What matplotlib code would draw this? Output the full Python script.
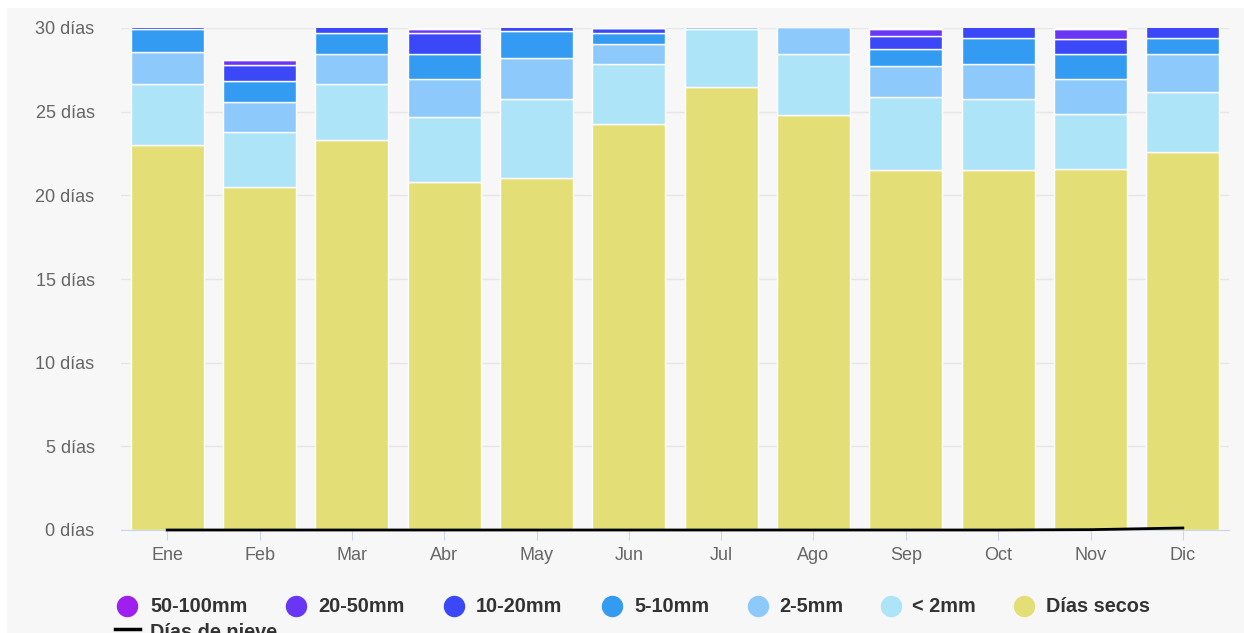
import matplotlib.pyplot as plt
from matplotlib.patches import Rectangle
from matplotlib.lines import Line2D
import numpy as np

plt.rcParams['font.family'] = ['Liberation Sans', 'DejaVu Sans']

months = ['Ene', 'Feb', 'Mar', 'Abr', 'May', 'Jun', 'Jul', 'Ago', 'Sep', 'Oct', 'Nov', 'Dic']

dry = [23.0, 20.52, 23.29, 20.82, 21.02, 24.29, 26.48, 24.79, 21.52, 21.5, 21.6, 22.59]
lt2 = [3.65, 3.25, 3.37, 3.85, 4.74, 3.55, 3.45, 3.64, 4.34, 4.26, 3.27, 3.57]
mm2_5 = [1.9, 1.79, 1.79, 2.29, 2.47, 1.19, 0.6, 1.6, 1.89, 2.08, 2.09, 2.27]
mm5_10 = [1.4, 1.3, 1.28, 1.47, 1.6, 0.7, 0.3, 0.6, 0.98, 1.59, 1.47, 1.0]
mm10_20 = [0.7, 0.9, 0.9, 1.3, 0.85, 0.25, 0.12, 0.27, 0.8, 1.1, 0.9, 1.1]
mm20_50 = [0.25, 0.3, 0.3, 0.22, 0.27, 0.02, 0.05, 0.1, 0.4, 0.4, 0.6, 0.4]
mm50_100 = [0.1, 0.05, 0.07, 0.05, 0.05, 0.0, 0.0, 0.0, 0.05, 0.07, 0.07, 0.07]
snow = [0, 0, 0, 0, 0, 0, 0, 0, 0, 0, 0.02, 0.12]

series = [
    ('Días secos', dry, '#e3df76'),
    ('< 2mm', lt2, '#ade4f8'),
    ('2-5mm', mm2_5, '#8dcafb'),
    ('5-10mm', mm5_10, '#339cf2'),
    ('10-20mm', mm10_20, '#3a48f8'),
    ('20-50mm', mm20_50, '#6a36f5'),
    ('50-100mm', mm50_100, '#9e1fee'),
]

W, H = 1244, 633
fig = plt.figure(figsize=(W / 100, H / 100), dpi=100, facecolor='white')
fig.add_artist(Rectangle((7 / W, 0), 1, 1 - 8 / H, transform=fig.transFigure,
                         facecolor='#f7f7f7', edgecolor='none', zorder=-10))

ax = fig.add_axes([121 / W, (H - 530) / H, (1229 - 121) / W, (530 - 28) / H])
ax.set_facecolor('#f7f7f7')

x = np.arange(len(months))
bottom = np.zeros(len(months))
for name, vals, col in series:
    ax.bar(x, vals, width=0.79, bottom=bottom, color=col, edgecolor='white',
           linewidth=1, zorder=2)
    bottom += np.array(vals)

ax.plot(x, snow, color='black', lw=2, zorder=3, clip_on=False)

ax.set_xlim(-0.5, 11.5)
ax.set_ylim(0, 30)
ax.set_yticks(range(0, 31, 5))
ax.set_yticklabels([f'{v} días' for v in range(0, 31, 5)])
ax.set_xticks(x)
ax.set_xticklabels(months)
ax.yaxis.grid(True, color='#e6e6e6', lw=1, zorder=0)
ax.set_axisbelow(True)
for s in ['top', 'right', 'left']:
    ax.spines[s].set_visible(False)
ax.spines['bottom'].set_color('#ccd6eb')
ax.tick_params(axis='y', length=0, pad=19, labelsize=13, labelcolor='#666666')
ax.tick_params(axis='x', length=7.2, color='#ccd6eb', pad=5, labelsize=13,
               labelcolor='#666666')

# legend drawn by hand to match the layout
legend_items = [
    ('50-100mm', '#9e1fee', 127, 150),
    ('20-50mm', '#6a36f5', 296, 318),
    ('10-20mm', '#3a48f8', 454, 476),
    ('5-10mm', '#339cf2', 612, 634),
    ('2-5mm', '#8dcafb', 758, 779),
    ('< 2mm', '#ade4f8', 891, 912),
    ('Días secos', '#e3df76', 1024, 1046),
]
ly = 1 - 606 / H
for label, col, cx, tx in legend_items:
    fig.add_artist(Line2D([cx / W], [ly], marker='o', markersize=14.4, color=col,
                          linestyle='none', transform=fig.transFigure))
    fig.text(tx / W, ly, label, fontsize=14.3, fontweight='bold', color='#333333',
             va='center', ha='left')

ly2 = 1 - 633 / H
fig.add_artist(Line2D([115 / W, 140 / W], [1 - 629 / H, 1 - 629 / H], color='black',
                      lw=2.5, transform=fig.transFigure))
fig.text(150 / W, ly2, 'Días de nieve', fontsize=14.3, fontweight='bold',
         color='#333333', va='center', ha='left')

fig.savefig('out.png', dpi=100, facecolor=fig.get_facecolor())
